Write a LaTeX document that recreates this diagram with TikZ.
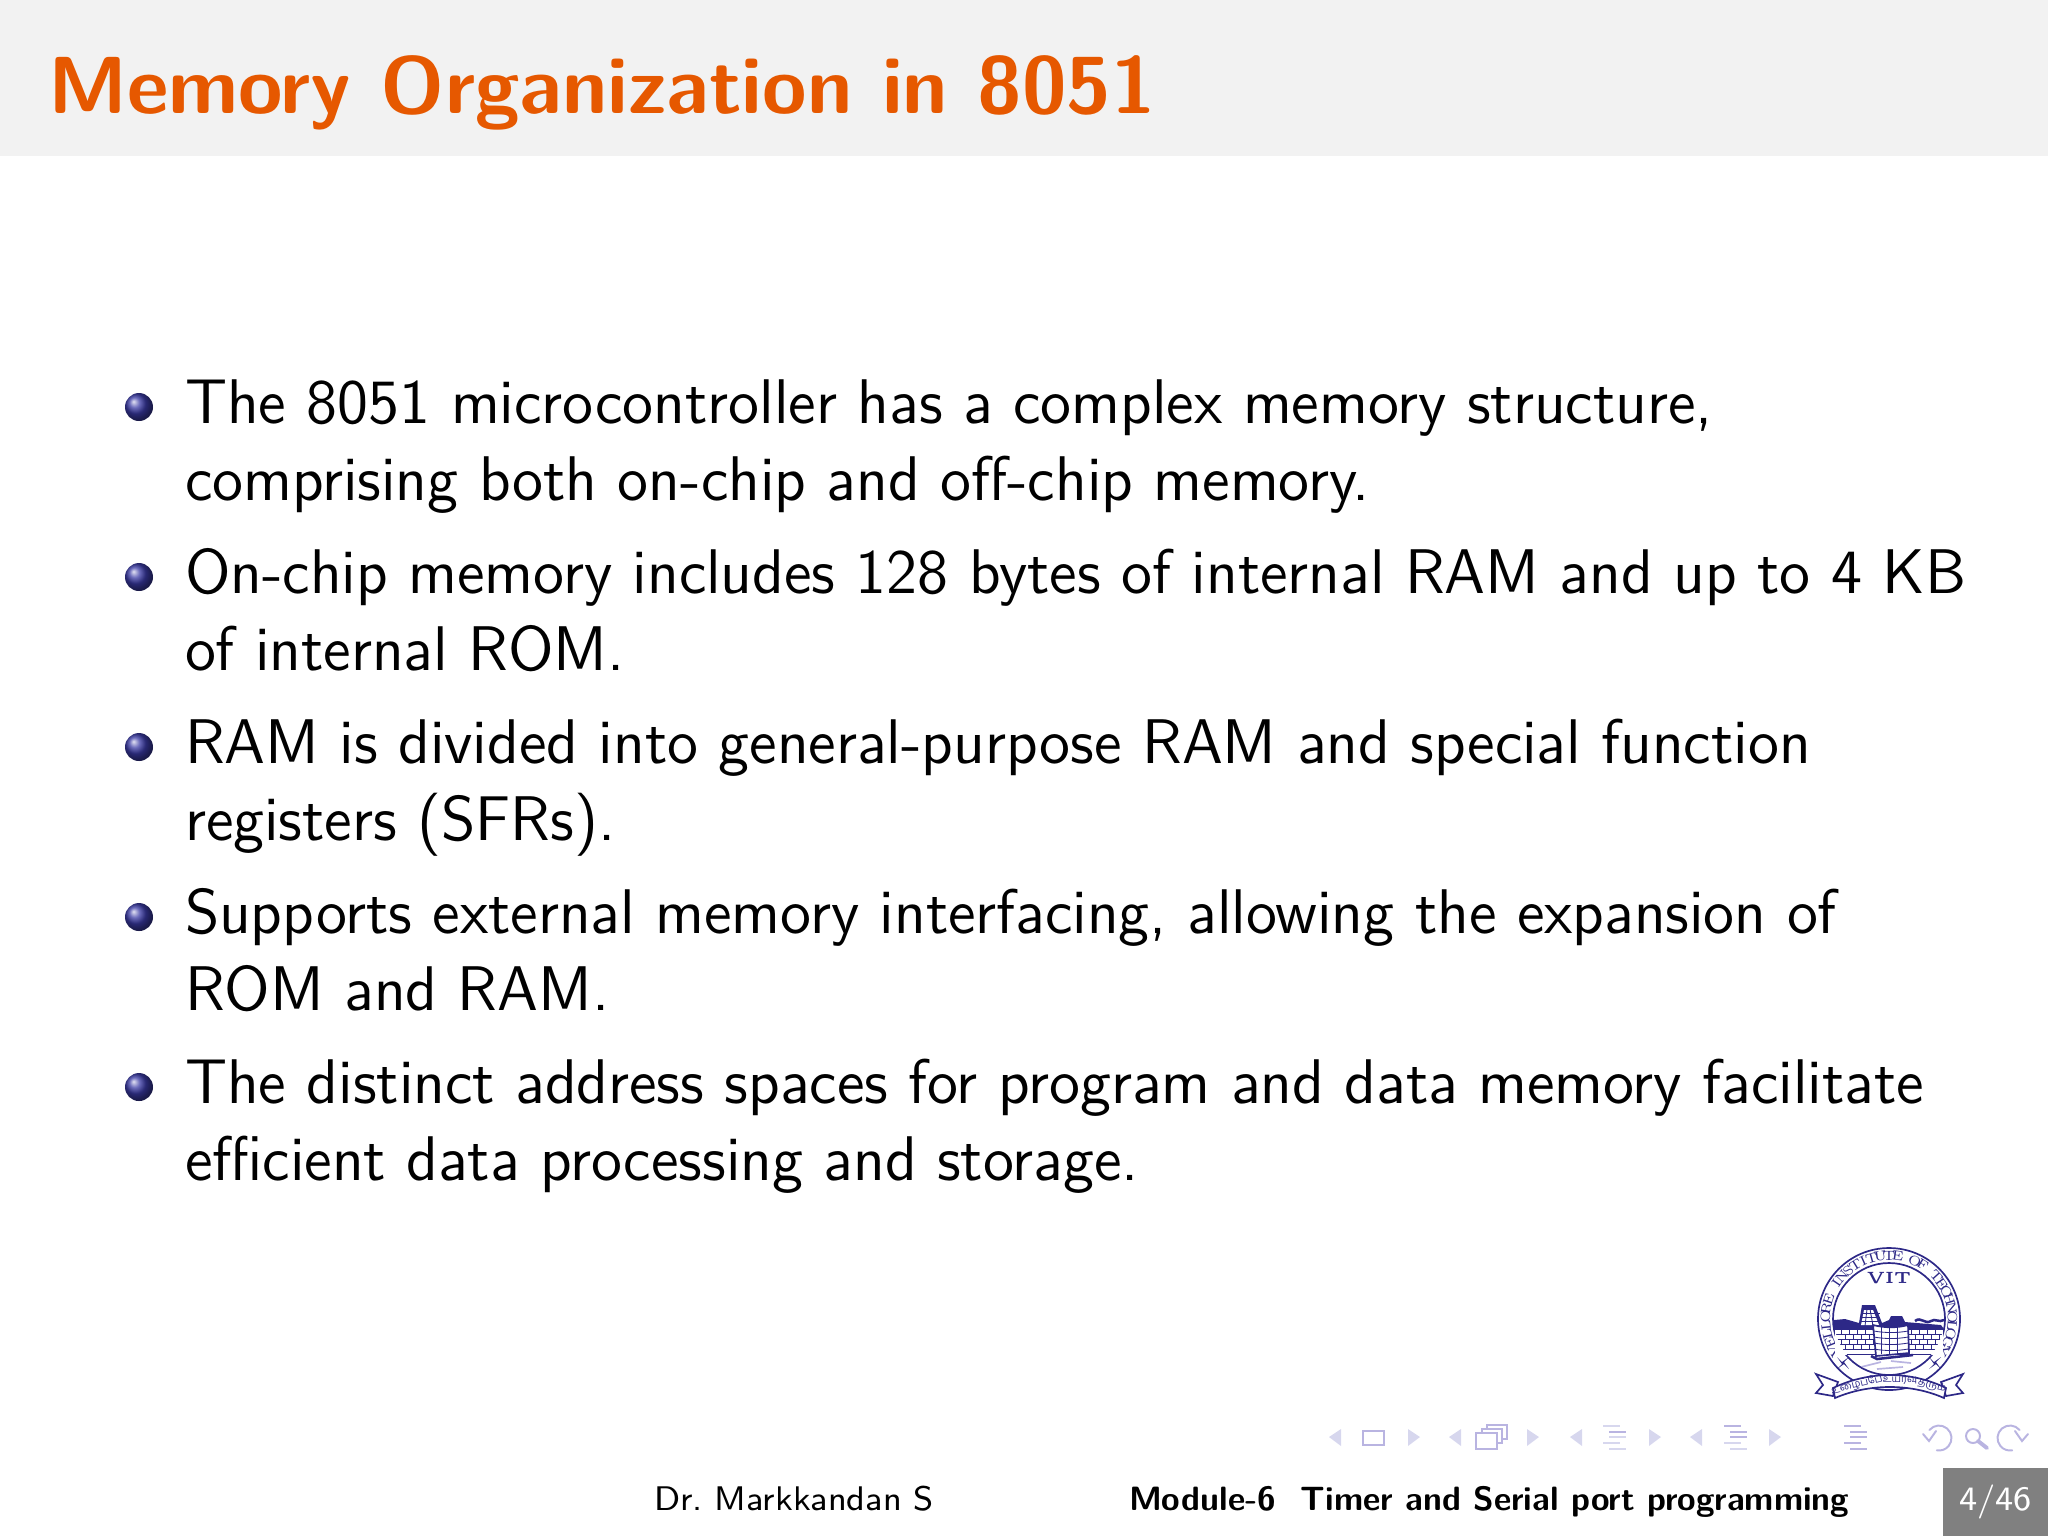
\documentclass[tikz,border=0pt]{standalone}
\usepackage{fontspec}
\usetikzlibrary{positioning}
\newfontfamily\tamilfont[Script=Tamil]{Hind Madurai}
\definecolor{titlefg}{RGB}{230,88,0}
\definecolor{titlebg}{RGB}{242,242,242}
\definecolor{bulletblue}{RGB}{58,58,165}
\definecolor{logoblue}{RGB}{45,40,135}
\definecolor{navblue}{RGB}{185,180,225}
\definecolor{navpale}{RGB}{215,215,238}
\definecolor{pagebg}{RGB}{128,128,128}

\begin{document}
\begin{tikzpicture}[
    x = 0.00625cm, y = -0.00625cm,
    every node/.style = {inner sep = 0pt, outer sep = 0pt},
    body/.style = {font = \sffamily\fontsize{11.23}{14}\selectfont, anchor = base west},
    bull/.style = {circle, minimum size = 28*0.00625cm, shading = ball, ball color = bulletblue},
    foot/.style = {font = \sffamily\fontsize{6.08}{8}\selectfont, anchor = base west},
    navline/.style = {navblue, line width = 0.35pt, line cap = round},
    navbar/.style = {line width = 0.5pt},
    navtip/.style = {navpale, fill = navpale, draw = none},
    logoline/.style = {logoblue, line width = 0.15pt},
    logoring/.style = {logoblue, line width = 0.3pt},
    ringchar/.style = {font = \rmfamily\fontsize{2.4}{3}\selectfont, text = logoblue},
    motto/.style = {font = \tamilfont\fontsize{1.8}{2}\selectfont, text = logoblue}]

\useasboundingbox (0,0) rectangle (2048,1536);
\fill[titlebg] (0,0) rectangle (2048,156);
\node[anchor = base west, text = titlefg, font = \sffamily\bfseries\fontsize{14.4}{18}\selectfont] (title) at (48,113) {Memory Organization in 8051};

% bullets
\foreach \name/\ypos in {a/407,b/577,c/747,d/917,e/1087}
    \node[bull] (bull\name) at (139,\ypos) {};

\node[body] (a1) at (185,423) {The 8051 microcontroller has a complex memory structure,};
\node[body] (a2) at (185,500) {comprising both on-chip and off-chip memory.};
\node[body] (b1) at (185,593) {On-chip memory includes 128 bytes of internal RAM and up to 4 KB};
\node[body] (b2) at (185,670) {of internal ROM.};
\node[body] (c1) at (185,763) {RAM is divided into general-purpose RAM and special function};
\node[body] (c2) at (185,840) {registers (SFRs).};
\node[body] (d1) at (185,933) {Supports external memory interfacing, allowing the expansion of};
\node[body] (d2) at (185,1010) {ROM and RAM.};
\node[body] (e1) at (185,1103) {The distinct address spaces for program and data memory facilitate};
\node[body] (e2) at (185,1180) {efficient data processing and storage.};

% footline
\node[foot] (author) at (654,1510) {Dr.\ Markkandan S};
\node[foot, font = \sffamily\bfseries\fontsize{6}{8}\selectfont] (module) at (1129,1510) {Module-6\ \ Timer and Serial port programming};
\fill[pagebg] (1943,1468) rectangle (2048,1536);
\node[foot, text = white] (page) at (1959,1510) {4/46};

% logo
\begin{scope}[shift = {(1889,1319)}]
    \draw[logoring] (0,0) circle (71);
    \draw[logoring] (0,0) circle (56);
    \foreach \ch [count = \i, evaluate = \i as \ang using 150+8*(\i-1)] in {V,E,L,L,O,R,E,{},I,N,S,T,I,T,U,T,E,{},O,F,{},T,E,C,H,N,O,L,O,G,Y}
        \node[ringchar, rotate = 270-\ang] (ring\i) at (\ang:63.5) {\ch};
    \node[font = \rmfamily\bfseries\fontsize{2.9}{3}\selectfont, text = logoblue] (vit) at (0,-41) {VIT};
    % temple and wall
    \fill[logoblue] (-55,1) -- (-44,0) -- (-30,4) -- (-27,-14) -- (-14,-14) -- (-7,4) -- (0,1) -- (2,-3) -- (13,-3) -- (16,3) -- (52,6) -- (55,10) -- (-55,10) -- cycle;
    \fill[white] (-25,-9) -- (-16,-9) -- (-10,6) -- (-28,6) -- cycle;
    \foreach \ypos in {-6,-2,2}
        \draw[logoline] (-28,\ypos) -- (-9,\ypos);
    \draw[logoline] (-22,-10) -- (-24,7) (-19,-10) -- (-16,7);
    \draw[logoblue, line width = 0.45pt] (26,2) .. controls (32,-3) and (36,6) .. (42,2) .. controls (46,-1) and (50,4) .. (55,1);
    \fill[white] (-54,10) rectangle (54,36);
    \clip (0,0) circle (55);
    \foreach \ypos in {10,15,20,25,30,35}
        \draw[logoline] (-55,\ypos) -- (55,\ypos);
    \foreach \xpos in {-48,-40,-32,-24,-16,22,30,38,46}
        \draw[logoline] (\xpos,10) -- (\xpos,15) (\xpos+4,15) -- (\xpos+4,20) (\xpos,20) -- (\xpos,25) (\xpos+4,25) -- (\xpos+4,30);
    \draw[logoring, fill = white] (-16,6) .. controls (-4,9) and (8,9) .. (19,6) -- (20,34) -- (-13,37) -- cycle;
    \foreach \ypos in {12,18,24,30}
        \draw[logoline] (-15,\ypos) .. controls (-4,\ypos+2) and (8,\ypos+2) .. (19,\ypos);
    \foreach \xpos in {-8,0,8}
        \draw[logoline] (\xpos,8) -- (\xpos,35);
    \draw[logoblue, line width = 0.45pt] (-18,37) -- (-12,40) -- (24,36);
    \draw[logoline, navblue, line width = 0.3pt] (-28,48) -- (-8,43) (2,42) -- (22,44) (-12,50) -- (14,48);
\end{scope}
\begin{scope}[shift = {(1889,1319)}]
    % stars
    \foreach \xpos in {-46,46}
        \fill[logoblue] (\xpos-6,38) -- (\xpos-1,43) -- (\xpos+6,38) -- (\xpos+1,43) -- (\xpos+6,50) -- (\xpos+1,45) -- (\xpos-6,50) -- (\xpos-1,45) -- cycle;
    % ribbon
    \draw[logoring, fill = white] (-73,55) -- (-51,63) -- (-56,77) -- (-73,74) -- (-66,66) -- cycle;
    \draw[logoring, fill = white] (74,55) -- (52,63) -- (57,77) -- (74,74) -- (67,66) -- cycle;
    \draw[logoring, fill = white] (-56,69) .. controls (-20,51.7) and (22,51.7) .. (57,69)
        -- (55,79) .. controls (22,64.3) and (-20,64.3) .. (-54,79) -- cycle;
    \node[motto, rotate = 14] (mottol) at (-32,66) {உழைப்பே};
    \node[motto] (mottom) at (11,61) {உயர்வு};
    \node[motto, rotate = -14] (mottor) at (43,67) {தரும்};
\end{scope}

% navigation symbols
\foreach \xpos in {1329,1449,1570,1690}
    \fill[navtip] (\xpos,1437) -- (\xpos+12,1429) -- (\xpos+12,1446) -- cycle;
\foreach \xpos in {1408,1527,1649,1769}
    \fill[navtip] (\xpos+12,1437) -- (\xpos,1429) -- (\xpos,1446) -- cycle;
\draw[navline, line width = 0.45pt] (1363,1431) rectangle (1384,1445);
\draw[navline, fill = white] (1487,1425) rectangle (1507,1439);
\draw[navline, fill = white] (1482,1429) rectangle (1502,1443);
\draw[navline, line width = 0.45pt, fill = white] (1476,1433) rectangle (1497,1449);
% section lines, first two pale in parts
\foreach \xpos/\colA/\colC in {1603/navpale/navpale,1724/navblue/navpale,1844/navblue/navblue} {
    \draw[navbar, \colA] (\xpos,1426) -- (\xpos+17,1426);
    \draw[navbar, navblue] (\xpos+6,1432) -- (\xpos+23,1432);
    \draw[navbar, \colA] (\xpos+6,1437) -- (\xpos+23,1437);
    \draw[navbar, \colC] (\xpos,1443) -- (\xpos+17,1443);
    \draw[navbar, \colC] (\xpos+6,1449) -- (\xpos+23,1449);
}
\draw[navline] (1939,1438) ++(220:12.5) arc[start angle = 220, end angle = 460, radius = 12.5];
\draw[navline] (1923,1434) -- (1929,1441) -- (1936,1431);
\draw[navline] (1973,1436) circle (7);
\draw[navline, line width = 0.7pt] (1978,1441) -- (1987,1448);
\draw[navline] (2010,1438) ++(320:12.5) arc[start angle = 320, end angle = 80, radius = 12.5];
\draw[navline] (2028,1434) -- (2022,1441) -- (2015,1431);
\end{tikzpicture}
\end{document}
